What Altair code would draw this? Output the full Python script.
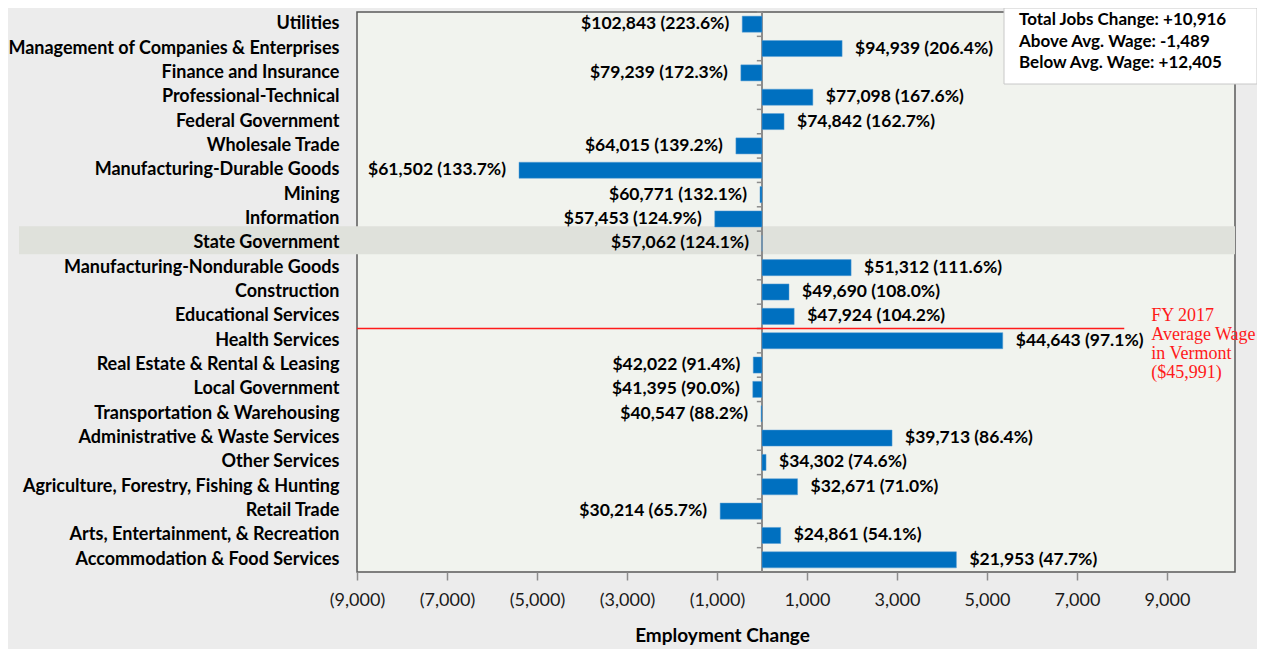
import altair as alt
import pandas as pd

categories = [
    "Utilities",
    "Management of Companies & Enterprises",
    "Finance and Insurance",
    "Professional-Technical",
    "Federal Government",
    "Wholesale Trade",
    "Manufacturing-Durable Goods",
    "Mining",
    "Information",
    "State Government",
    "Manufacturing-Nondurable Goods",
    "Construction",
    "Educational Services",
    "Health Services",
    "Real Estate & Rental & Leasing",
    "Local Government",
    "Transportation & Warehousing",
    "Administrative & Waste Services",
    "Other Services",
    "Agriculture, Forestry, Fishing & Hunting",
    "Retail Trade",
    "Arts, Entertainment, & Recreation",
    "Accommodation & Food Services",
]
changes = [-440, 1780, -470, 1130, 490, -580, -5400, -45, -1050, 0, 1980, 600, 715,
           5350, -195, -205, -20, 2890, 90, 790, -930, 415, 4320]
wages = [102843, 94939, 79239, 77098, 74842, 64015, 61502, 60771, 57453, 57062, 51312,
         49690, 47924, 44643, 42022, 41395, 40547, 39713, 34302, 32671, 30214, 24861, 21953]
pcts = [223.6, 206.4, 172.3, 167.6, 162.7, 139.2, 133.7, 132.1, 124.9, 124.1, 111.6,
        108.0, 104.2, 97.1, 91.4, 90.0, 88.2, 86.4, 74.6, 71.0, 65.7, 54.1, 47.7]
x_ticks = [-9000, -7000, -5000, -3000, -1000, 1000, 3000, 5000, 7000, 9000]
summary_lines = ["Total Jobs Change: +10,916", "Above Avg. Wage: -1,489", "Below Avg. Wage: +12,405"]
avg_wage_lines = ["FY 2017", "Average Wage", "in Vermont", "($45,991)"]
highlight = "State Government"
avg_line_row = "Health Services"

df = pd.DataFrame({"industry": categories, "change": changes, "wage": wages, "pct": pcts})
df["label"] = [f"${w:,} ({p:.1f}%)" for w, p in zip(wages, pcts)]

W, H = 878, 560
STEP = H / len(categories)
FONT = "Lato"

x_scale = alt.Scale(domain=[-9000, 10511], nice=False, zero=False)
y_scale = alt.Scale(domain=categories, paddingInner=0.34, paddingOuter=0.17)

y_axis = alt.Axis(
    title=None, domain=False, ticks=False, labelPadding=18, labelFont=FONT,
    labelFontSize=18, labelFontWeight="bold", labelColor="#000000", zindex=1,
    labelLimit=400,
)
x_axis = alt.Axis(
    values=x_ticks, grid=False, domain=False, tickColor="#8c8c8c", tickSize=8,
    tickWidth=1.5, labelFont=FONT, labelFontSize=18, labelColor="#1a1a1a",
    labelPadding=11, labelFlush=False, labelOverlap=False, labelBound=False,
    labelExpr="datum.value < 0 ? '(' + format(-datum.value, ',') + ')' : format(datum.value, ',')",
    title="Employment Change", titleFont=FONT, titleFontSize=19, titleFontWeight="bold",
    titleColor="#000000", titleX=365, titleY=63, titleBaseline="middle",
)

def yenc():
    return alt.Y("industry:N", scale=y_scale, sort=categories, axis=y_axis)

band = alt.Chart(pd.DataFrame({"industry": [highlight]})).mark_bar(
    color="#dfe1db", height=28, yOffset=-3
).encode(x=alt.value(-338), x2=alt.value(W), y=yenc())

bars = alt.Chart(df).mark_bar(color="#0070c0", stroke="#5a9fd4", strokeWidth=0.5).encode(
    x=alt.X("change:Q", scale=x_scale, axis=x_axis),
    y=yenc(),
)

zero_line = alt.Chart(pd.DataFrame({"v": [0]})).mark_rule(color="#8c8c8c", strokeWidth=2).encode(
    x=alt.X("v:Q", scale=x_scale, axis=x_axis), y=alt.value(0), y2=alt.value(H)
)

ticks = alt.Chart(df).mark_rule(color="#8c8c8c", strokeWidth=1.5, yOffset=-STEP / 2).encode(
    x=alt.datum(-115), x2=alt.datum(0), y=yenc()
)

pos_labels = alt.Chart(df).transform_filter("datum.change > 0").mark_text(
    align="left", baseline="middle", dx=13, font=FONT, fontSize=17.5, fontWeight="bold", color="#000000"
).encode(x=alt.X("change:Q", scale=x_scale, axis=x_axis), y=yenc(), text="label:N")

neg_labels = alt.Chart(df).transform_filter("datum.change <= 0").mark_text(
    align="right", baseline="middle", dx=-13, font=FONT, fontSize=17.5, fontWeight="bold", color="#000000"
).encode(x=alt.X("change:Q", scale=x_scale, axis=x_axis), y=yenc(), text="label:N")

avg_df = pd.DataFrame({"industry": [avg_line_row]})
avg_rule = alt.Chart(avg_df).mark_rule(color="#ff1a1a", strokeWidth=1.5, yOffset=-STEP / 2).encode(
    x=alt.datum(-9000), x2=alt.datum(8050), y=yenc()
)
avg_text = alt.Chart(avg_df).mark_text(
    text=avg_wage_lines, align="left", baseline="top", dy=-34, lineHeight=19,
    font="Liberation Serif", fontSize=18, color="#ff1a1a",
).encode(x=alt.datum(8650), y=yenc())

box_df = pd.DataFrame({"k": [1]})
box = alt.Chart(box_df).mark_rect(fill="#ffffff", stroke="#c8c8c8", strokeWidth=1).encode(
    x=alt.value(647), x2=alt.value(W + 22), y=alt.value(-4), y2=alt.value(72)
)
box_text = alt.Chart(box_df).mark_text(
    text=summary_lines, align="left", baseline="middle", lineHeight=21.5,
    font=FONT, fontSize=17, fontWeight="bold", color="#000000",
).encode(x=alt.value(662), y=alt.value(8))

chart = alt.layer(
    band, zero_line, bars, ticks, pos_labels, neg_labels, avg_rule, avg_text, box, box_text
).properties(
    width=W, height=H, autosize=alt.AutoSizeParams(type="none"),
    padding={"left": 349, "top": 4, "right": 22, "bottom": 77},
    background="#ececec",
).configure_view(fill="#f1f3ee", stroke="#595959", strokeWidth=1.5)

chart.save("out.html", embed_options={"renderer": "svg", "actions": False})
